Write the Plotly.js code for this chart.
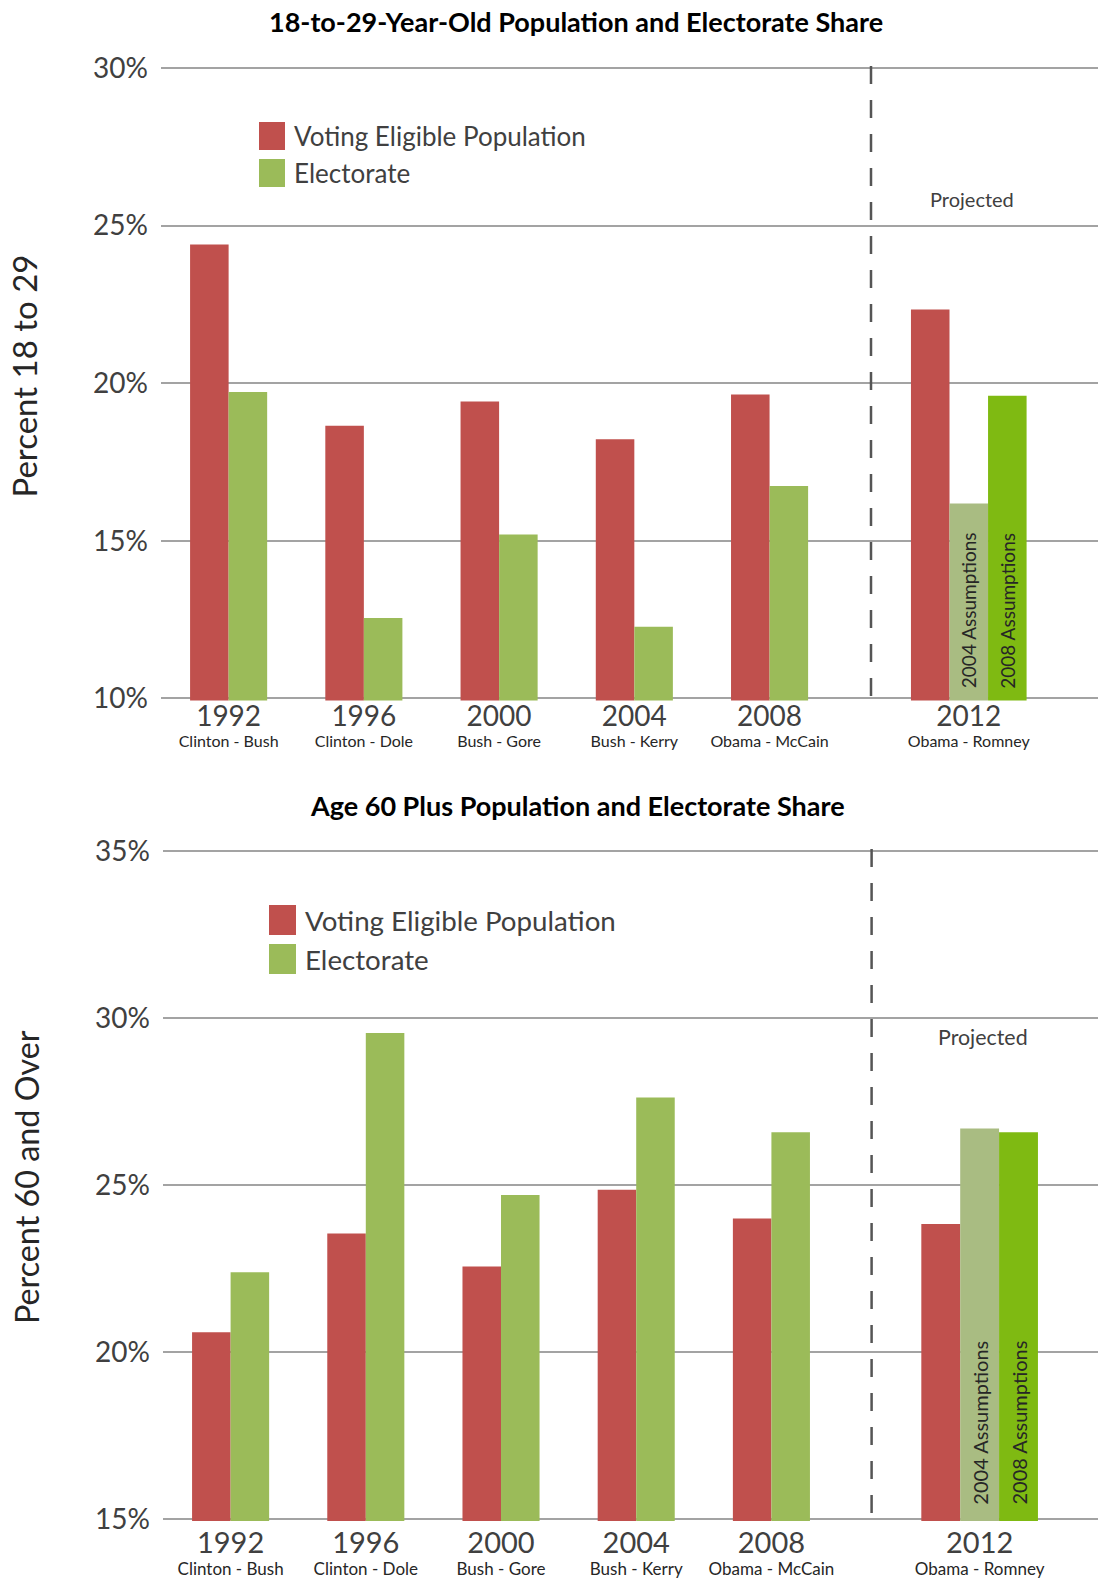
<!DOCTYPE html>
<html>
<head>
<meta charset="utf-8">
<script src="https://cdn.plot.ly/plotly-3.0.1.min.js"></script>
<style>
  html, body { margin: 0; padding: 0; background: #ffffff; }
  #chart { width: 1098px; height: 1582px; }
</style>
</head>
<body>
<div id="chart"></div>
<script>
// Election years and match-ups (historical) plus the projected year
const years = ['1992', '1996', '2000', '2004', '2008'];
const matchups = ['Clinton - Bush', 'Clinton - Dole', 'Bush - Gore', 'Bush - Kerry', 'Obama - McCain'];
const projYear = ['2012'];
const projMatchup = ['Obama - Romney'];

const seriesNames = ['Voting Eligible Population', 'Electorate'];
const assumptionLabels = ['2004 Assumptions', '2008 Assumptions'];

// 18-to-29-year-olds, percent of population / electorate
const youthVEP = [24.4, 18.65, 19.42, 18.22, 19.64];
const youthElectorate = [19.72, 12.55, 15.2, 12.27, 16.74];
const youthVEP2012 = [22.34];
const youthElect2012With2004 = [16.18];
const youthElect2012With2008 = [19.6];

// Age 60 plus, percent of population / electorate
const seniorVEP = [20.59, 23.55, 22.56, 24.86, 24.0];
const seniorElectorate = [22.39, 29.55, 24.7, 27.62, 26.58];
const seniorVEP2012 = [23.83];
const seniorElect2012With2004 = [26.69];
const seniorElect2012With2008 = [26.58];

// Axis tick values
const youthTicks = [10, 15, 20, 25, 30];
const seniorTicks = [15, 20, 25, 30, 35];

// ---- styling ----
const RED = '#C0504D';
const GREEN = '#9BBB59';
const GREEN_2004 = '#A9BC82';
const GREEN_2008 = '#7FBA12';
const GRID = '#a3a3a3';
const TEXT = '#404040';
const FONT = 'Lato, "Open Sans", sans-serif';
const BARGAP = 0.43;

const W = 1098, H = 1582;
const px = v => v / W;
const py = v => 1 - v / H;

function tickText(yrs, names, yearSize) {
  return yrs.map((y, i) =>
    '<span style="font-size:' + yearSize + 'px;color:' + TEXT + '">' + y + '</span><br>' + names[i]);
}

function bar(x, y, color, xa, ya, name) {
  return {
    type: 'bar', x: x, y: y, name: name, xaxis: xa, yaxis: ya,
    marker: { color: color },
    hoverinfo: 'x+y+name', showlegend: false
  };
}

const data = [
  // 18-29 panel
  bar(years, youthVEP, RED, 'x', 'y', seriesNames[0]),
  bar(years, youthElectorate, GREEN, 'x', 'y', seriesNames[1]),
  bar(projYear, youthVEP2012, RED, 'x2', 'y', seriesNames[0]),
  bar(projYear, youthElect2012With2004, GREEN_2004, 'x2', 'y', assumptionLabels[0]),
  bar(projYear, youthElect2012With2008, GREEN_2008, 'x2', 'y', assumptionLabels[1]),
  // 60+ panel
  bar(years, seniorVEP, RED, 'x3', 'y2', seriesNames[0]),
  bar(years, seniorElectorate, GREEN, 'x3', 'y2', seriesNames[1]),
  bar(projYear, seniorVEP2012, RED, 'x4', 'y2', seriesNames[0]),
  bar(projYear, seniorElect2012With2004, GREEN_2004, 'x4', 'y2', assumptionLabels[0]),
  bar(projYear, seniorElect2012With2008, GREEN_2008, 'x4', 'y2', assumptionLabels[1])
];

function xAxis(domain, range, anchor, vals, text, baseSize, standoff) {
  return {
    type: 'category', domain: domain, range: range, anchor: anchor,
    tickvals: vals, ticktext: text, tickangle: 0,
    tickfont: { family: FONT, size: baseSize, color: '#262626' },
    ticks: '', ticklabelstandoff: standoff,
    showgrid: false, zeroline: false, showline: false, fixedrange: true
  };
}

// 2 px of slack beyond the end ticks keeps the outermost gridlines visible
function yAxis(topPx, botPx, lo, hi, anchor, ticks) {
  const perUnit = (botPx - topPx) / (hi - lo);
  const pad = 2 / perUnit;
  return {
    domain: [py(botPx + 2), py(topPx - 2)], range: [lo - pad, hi + pad], anchor: anchor,
    tickmode: 'array', tickvals: ticks, ticktext: ticks.map(v => v + '%'),
    tickfont: { family: FONT, size: 28, color: TEXT },
    ticks: '', ticklabelstandoff: 12,
    showgrid: true, gridcolor: GRID, gridwidth: 2,
    zeroline: false, showline: false, fixedrange: true
  };
}

function legendBlock(sqLeft, sqW, rows, fontSize) {
  const shapes = [], anns = [];
  const colors = [RED, GREEN];
  rows.forEach((r, i) => {
    shapes.push({
      type: 'rect', xref: 'paper', yref: 'paper',
      x0: px(sqLeft), x1: px(sqLeft + sqW), y0: py(r[1]), y1: py(r[0]),
      fillcolor: colors[i], line: { width: 0 }
    });
    anns.push({
      xref: 'paper', yref: 'paper', x: px(sqLeft + sqW + 7), y: py((r[0] + r[1]) / 2),
      xanchor: 'left', yanchor: 'middle', showarrow: false,
      text: seriesNames[i], font: { family: FONT, size: fontSize, color: TEXT }
    });
  });
  return { shapes, anns };
}

// Vertical labels sitting at the foot of the two projected-electorate bars.
// Within the 2012 group of three bars, bar k is centred (k - 1) * step from the category.
function assumptionNotes(xref, yref, floor, fontSize, lift) {
  const step = (1 - BARGAP) / 3;
  return assumptionLabels.map((label, i) => ({
    xref: xref, yref: yref, x: i * step, y: floor,
    xanchor: 'center', yanchor: 'bottom', yshift: lift,
    textangle: -90, showarrow: false, text: label,
    font: { family: FONT, size: fontSize, color: '#262626' }
  }));
}

const legTop = legendBlock(259, 26, [[122, 150], [159, 187]], 26);
const legBot = legendBlock(269, 27, [[905, 935], [944, 974]], 27.7);

const dashLine = (xref, yref) => ({
  type: 'line', xref: xref, yref: yref, x0: 0, x1: 0, y0: 1, y1: 0,
  line: { color: '#555555', width: 2.5, dash: '18px,16px' }
});

const layout = {
  width: W, height: H,
  margin: { l: 0, r: 0, t: 0, b: 0 },
  paper_bgcolor: '#ffffff', plot_bgcolor: 'rgba(0,0,0,0)',
  barmode: 'group', bargap: BARGAP, bargroupgap: 0,
  showlegend: false,
  font: { family: FONT, color: TEXT },
  xaxis: xAxis([px(161), px(871)], [-0.5, 4.75], 'y', years, tickText(years, matchups, 28), 16, 9),
  xaxis2: xAxis([px(871), 1], [-0.482, 0.637], 'y', projYear, tickText(projYear, projMatchup, 28), 16, 9),
  yaxis: yAxis(68, 698.4, 10, 30, 'x', youthTicks),
  xaxis3: xAxis([px(163), px(871.6)], [-0.5, 4.741], 'y2', years, tickText(years, matchups, 29), 17, 14),
  xaxis4: xAxis([px(871.6), 1], [-0.528, 0.5785], 'y2', projYear, tickText(projYear, projMatchup, 29), 17, 14),
  yaxis2: yAxis(851, 1519, 15, 35, 'x3', seniorTicks),
  shapes: [
    dashLine('x2 domain', 'y domain'),
    dashLine('x4 domain', 'y2 domain'),
    ...legTop.shapes, ...legBot.shapes
  ],
  annotations: [
    {
      xref: 'paper', yref: 'paper', x: px(576), y: py(21), xanchor: 'center', yanchor: 'middle',
      showarrow: false, text: '18-to-29-Year-Old Population and Electorate Share',
      font: { family: FONT, size: 27, color: '#000000', weight: 700 }
    },
    {
      xref: 'paper', yref: 'paper', x: px(577), y: py(805), xanchor: 'center', yanchor: 'middle',
      showarrow: false, text: 'Age 60 Plus Population and Electorate Share',
      font: { family: FONT, size: 27, color: '#000000', weight: 700 }
    },
    {
      xref: 'paper', yref: 'paper', x: px(23.5), y: py(376), xanchor: 'center', yanchor: 'middle',
      showarrow: false, textangle: -90, text: 'Percent 18 to 29',
      font: { family: FONT, size: 33, color: '#262626' }
    },
    {
      xref: 'paper', yref: 'paper', x: px(26), y: py(1177), xanchor: 'center', yanchor: 'middle',
      showarrow: false, textangle: -90, text: 'Percent 60 and Over',
      font: { family: FONT, size: 32.3, color: '#262626' }
    },
    {
      xref: 'paper', yref: 'paper', x: px(972), y: py(199), xanchor: 'center', yanchor: 'middle',
      showarrow: false, text: 'Projected', font: { family: FONT, size: 20, color: TEXT }
    },
    {
      xref: 'paper', yref: 'paper', x: px(983), y: py(1037), xanchor: 'center', yanchor: 'middle',
      showarrow: false, text: 'Projected', font: { family: FONT, size: 21.4, color: TEXT }
    },
    ...assumptionNotes('x2', 'y', youthTicks[0], 19, 8),
    ...assumptionNotes('x4', 'y2', seniorTicks[0], 20, 12),
    ...legTop.anns, ...legBot.anns
  ]
};

Plotly.newPlot('chart', data, layout, { staticPlot: true, displayModeBar: false });
</script>
</body>
</html>
